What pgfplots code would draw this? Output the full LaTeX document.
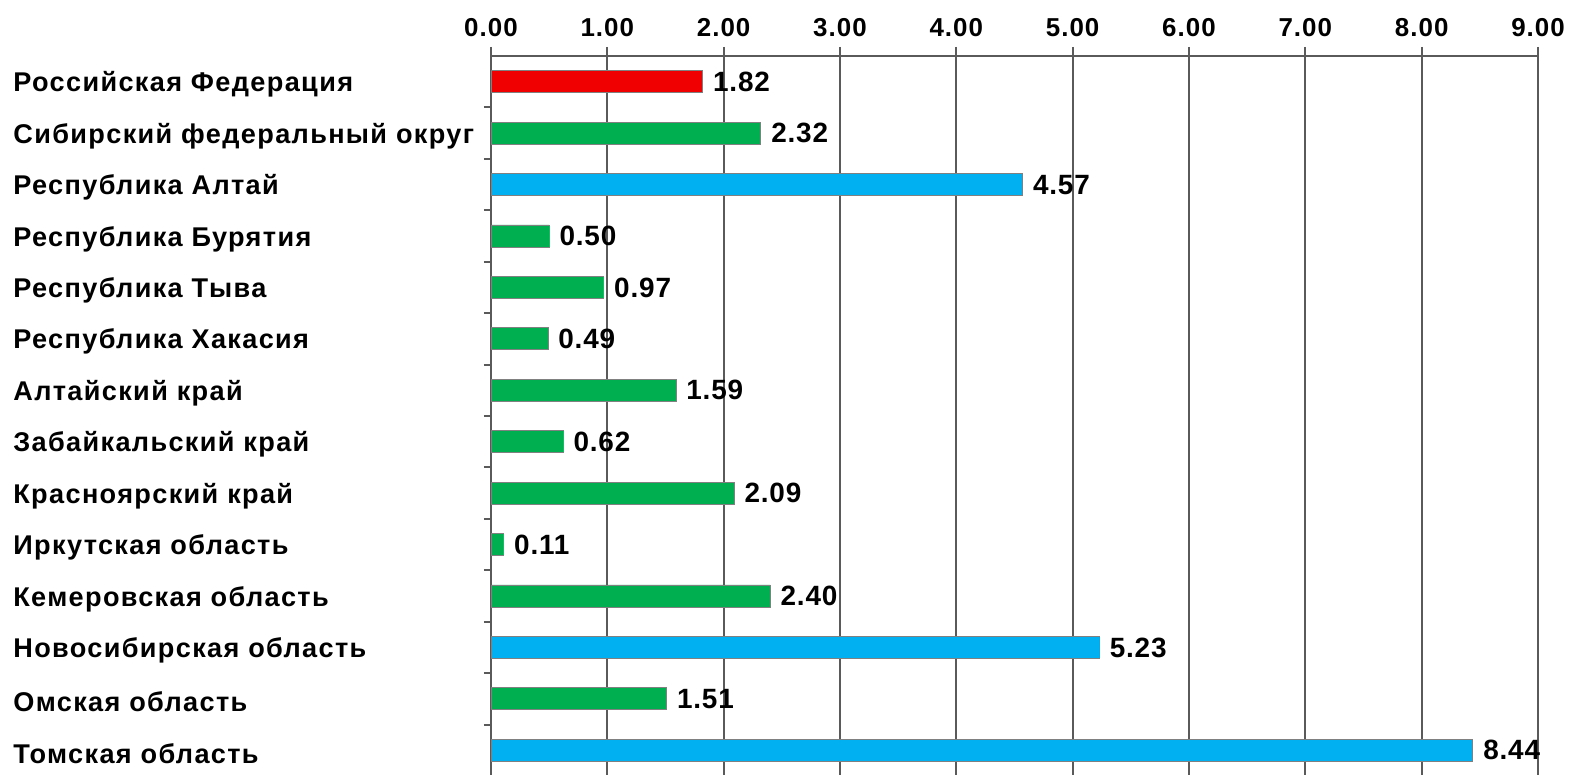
\documentclass[border=0pt]{standalone}
\usepackage{pgfplots}
\pgfplotsset{compat=1.18}
\usepackage{fontspec}
\setmainfont{Liberation Sans}
\newfontfamily\catfont[LetterSpace=5]{Liberation Sans}
\newfontfamily\tickfont[LetterSpace=4]{Liberation Sans}
\newfontfamily\valfont[LetterSpace=3]{Liberation Sans}
\definecolor{barred}{RGB}{240,0,0}
\definecolor{bargreen}{RGB}{0,176,80}
\definecolor{barblue}{RGB}{0,176,240}
\definecolor{gridgray}{RGB}{90,90,90}
\begin{document}
\begin{tikzpicture}
\useasboundingbox (0,0) rectangle (784.5bp,387.5bp);
\begin{axis}[
    at={(245.5bp,359.5bp)}, anchor=north west,
    scale only axis, width=523.5bp, height=360bp,
    xbar, bar width=11bp, bar shift=0pt,
    xmin=0, xmax=9, ymin=-0.5, ymax=13.5,
    axis x line*=top, axis y line*=left,
    axis line style={gridgray, line width=1bp, -},
    xtick={0,...,9},
    xmajorgrids, major grid style={gridgray, line width=1bp},
    ytick={0,...,13},
    minor ytick={-0.5,0.5,...,12.5},
    every major y tick/.style={draw=none},
    tick align=outside,
    major tick length=4.5bp, minor tick length=3.5bp,
    every tick/.style={gridgray, line width=1bp},
    /pgf/number format/.cd, fixed, fixed zerofill, precision=2, assume math mode=true,
    /pgfplots/.cd,
    xticklabel style={font=\tickfont\bfseries\fontsize{13}{15}\selectfont, yshift=1.5bp},
    yticklabels={Томская область, Омская область, Новосибирская область,
        Кемеровская область, Иркутская область, Красноярский край,
        Забайкальский край, Алтайский край, Республика Хакасия,
        Республика Тыва, Республика Бурятия, Республика Алтай,
        Сибирский федеральный округ, Российская Федерация},
    yticklabel style={anchor=west, inner sep=0pt, xshift=-234.5bp, yshift=-1.5bp,
        font=\catfont\bfseries\fontsize{13.6}{16}\selectfont},
    point meta=x,
    nodes near coords,
    every node near coord/.append style={font=\valfont\bfseries\fontsize{14}{16}\selectfont,
        black, inner sep=0pt, xshift=5bp},
]
\addplot[fill=barred, draw=gray, line width=0.4bp] coordinates {(1.82,13)};
\addplot[fill=bargreen, draw=gray, line width=0.4bp] coordinates {
    (2.32,12) (0.50,10) (0.97,9) (0.49,8) (1.59,7) (0.62,6)
    (2.09,5) (0.11,4) (2.40,3) (1.51,1)};
\addplot[fill=barblue, draw=gray, line width=0.4bp] coordinates {
    (4.57,11) (5.23,2) (8.44,0)};
\end{axis}
\end{tikzpicture}
\end{document}
